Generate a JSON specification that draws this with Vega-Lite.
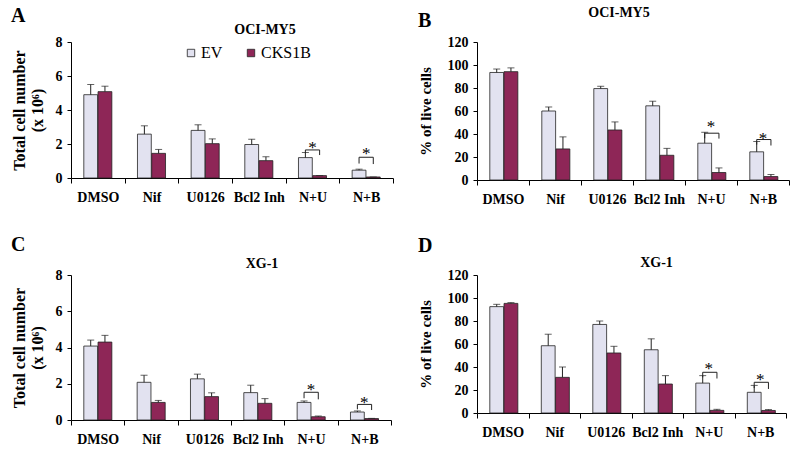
{
  "$schema": "https://vega.github.io/schema/vega-lite/v6.json",
  "padding": {"left": 10, "top": 6, "right": 5, "bottom": 0},
  "spacing": 29,
  "datasets": {
    "bars": [
      {"panel":"A","cat":"DMSO","grp":"EV","value":4.9,"err":5.5},
      {"panel":"A","cat":"DMSO","grp":"CKS1B","value":5.08,"err":5.4},
      {"panel":"A","cat":"Nif","grp":"EV","value":2.58,"err":3.07},
      {"panel":"A","cat":"Nif","grp":"CKS1B","value":1.45,"err":1.68},
      {"panel":"A","cat":"U0126","grp":"EV","value":2.8,"err":3.13},
      {"panel":"A","cat":"U0126","grp":"CKS1B","value":2.02,"err":2.3},
      {"panel":"A","cat":"Bcl2 Inh","grp":"EV","value":1.97,"err":2.28},
      {"panel":"A","cat":"Bcl2 Inh","grp":"CKS1B","value":1.02,"err":1.25},
      {"panel":"A","cat":"N+U","grp":"EV","value":1.2,"err":1.5},
      {"panel":"A","cat":"N+U","grp":"CKS1B","value":0.14,"err":0.14},
      {"panel":"A","cat":"N+B","grp":"EV","value":0.46,"err":0.52},
      {"panel":"A","cat":"N+B","grp":"CKS1B","value":0.06,"err":0.06},
      {"panel":"B","cat":"DMSO","grp":"EV","value":93.5,"err":96.5},
      {"panel":"B","cat":"DMSO","grp":"CKS1B","value":94.2,"err":97.5},
      {"panel":"B","cat":"Nif","grp":"EV","value":60,"err":63.5},
      {"panel":"B","cat":"Nif","grp":"CKS1B","value":27,"err":37.5},
      {"panel":"B","cat":"U0126","grp":"EV","value":79.5,"err":81.5},
      {"panel":"B","cat":"U0126","grp":"CKS1B","value":43.5,"err":50.5},
      {"panel":"B","cat":"Bcl2 Inh","grp":"EV","value":64.5,"err":68.5},
      {"panel":"B","cat":"Bcl2 Inh","grp":"CKS1B","value":21.5,"err":27.5},
      {"panel":"B","cat":"N+U","grp":"EV","value":32,"err":41.5},
      {"panel":"B","cat":"N+U","grp":"CKS1B","value":6.5,"err":10.5},
      {"panel":"B","cat":"N+B","grp":"EV","value":24.5,"err":33.5},
      {"panel":"B","cat":"N+B","grp":"CKS1B","value":3,"err":4.8},
      {"panel":"C","cat":"DMSO","grp":"EV","value":4.08,"err":4.41},
      {"panel":"C","cat":"DMSO","grp":"CKS1B","value":4.3,"err":4.67},
      {"panel":"C","cat":"Nif","grp":"EV","value":2.08,"err":2.47},
      {"panel":"C","cat":"Nif","grp":"CKS1B","value":0.97,"err":1.08},
      {"panel":"C","cat":"U0126","grp":"EV","value":2.27,"err":2.53},
      {"panel":"C","cat":"U0126","grp":"CKS1B","value":1.29,"err":1.5},
      {"panel":"C","cat":"Bcl2 Inh","grp":"EV","value":1.51,"err":1.92},
      {"panel":"C","cat":"Bcl2 Inh","grp":"CKS1B","value":0.92,"err":1.18},
      {"panel":"C","cat":"N+U","grp":"EV","value":0.97,"err":1.05},
      {"panel":"C","cat":"N+U","grp":"CKS1B","value":0.18,"err":0.22},
      {"panel":"C","cat":"N+B","grp":"EV","value":0.44,"err":0.5},
      {"panel":"C","cat":"N+B","grp":"CKS1B","value":0.08,"err":0.09},
      {"panel":"D","cat":"DMSO","grp":"EV","value":92.5,"err":94.5},
      {"panel":"D","cat":"DMSO","grp":"CKS1B","value":95.3,"err":96},
      {"panel":"D","cat":"Nif","grp":"EV","value":58.5,"err":68.5},
      {"panel":"D","cat":"Nif","grp":"CKS1B","value":31,"err":40},
      {"panel":"D","cat":"U0126","grp":"EV","value":77,"err":80},
      {"panel":"D","cat":"U0126","grp":"CKS1B","value":52.2,"err":58},
      {"panel":"D","cat":"Bcl2 Inh","grp":"EV","value":55,"err":64.5},
      {"panel":"D","cat":"Bcl2 Inh","grp":"CKS1B","value":25.2,"err":32.5},
      {"panel":"D","cat":"N+U","grp":"EV","value":26,"err":32.5},
      {"panel":"D","cat":"N+U","grp":"CKS1B","value":2.3,"err":3.2},
      {"panel":"D","cat":"N+B","grp":"EV","value":18,"err":24},
      {"panel":"D","cat":"N+B","grp":"CKS1B","value":2.2,"err":3}
    ],
    "brackets": [
      {"panel":"A","cat":"N+U","grp":"EV","ord":1,"y":1.45},
      {"panel":"A","cat":"N+U","grp":"EV","ord":2,"y":1.65},
      {"panel":"A","cat":"N+U","grp":"CKS1B","ord":3,"y":1.65},
      {"panel":"A","cat":"N+U","grp":"CKS1B","ord":4,"y":1.35},
      {"panel":"A","cat":"N+B","grp":"EV","ord":1,"y":0.85},
      {"panel":"A","cat":"N+B","grp":"EV","ord":2,"y":1.22},
      {"panel":"A","cat":"N+B","grp":"CKS1B","ord":3,"y":1.22},
      {"panel":"A","cat":"N+B","grp":"CKS1B","ord":4,"y":0.82},
      {"panel":"B","cat":"N+U","grp":"EV","ord":1,"y":36.3},
      {"panel":"B","cat":"N+U","grp":"EV","ord":2,"y":40.7},
      {"panel":"B","cat":"N+U","grp":"CKS1B","ord":3,"y":40.7},
      {"panel":"B","cat":"N+U","grp":"CKS1B","ord":4,"y":36},
      {"panel":"B","cat":"N+B","grp":"EV","ord":1,"y":30.8},
      {"panel":"B","cat":"N+B","grp":"EV","ord":2,"y":35.2},
      {"panel":"B","cat":"N+B","grp":"CKS1B","ord":3,"y":35.2},
      {"panel":"B","cat":"N+B","grp":"CKS1B","ord":4,"y":30},
      {"panel":"C","cat":"N+U","grp":"EV","ord":1,"y":1.2},
      {"panel":"C","cat":"N+U","grp":"EV","ord":2,"y":1.53},
      {"panel":"C","cat":"N+U","grp":"CKS1B","ord":3,"y":1.53},
      {"panel":"C","cat":"N+U","grp":"CKS1B","ord":4,"y":1.14},
      {"panel":"C","cat":"N+B","grp":"EV","ord":1,"y":0.59},
      {"panel":"C","cat":"N+B","grp":"EV","ord":2,"y":0.86},
      {"panel":"C","cat":"N+B","grp":"CKS1B","ord":3,"y":0.86},
      {"panel":"C","cat":"N+B","grp":"CKS1B","ord":4,"y":0.55},
      {"panel":"D","cat":"N+U","grp":"EV","ord":1,"y":31},
      {"panel":"D","cat":"N+U","grp":"EV","ord":2,"y":35.4},
      {"panel":"D","cat":"N+U","grp":"CKS1B","ord":3,"y":35.4},
      {"panel":"D","cat":"N+U","grp":"CKS1B","ord":4,"y":30},
      {"panel":"D","cat":"N+B","grp":"EV","ord":1,"y":21.7},
      {"panel":"D","cat":"N+B","grp":"EV","ord":2,"y":26.7},
      {"panel":"D","cat":"N+B","grp":"CKS1B","ord":3,"y":26.7},
      {"panel":"D","cat":"N+B","grp":"CKS1B","ord":4,"y":20.9}
    ],
    "stars": [
      {"panel":"A","cat":"N+U","y":1.78,"s":"*"},
      {"panel":"A","cat":"N+B","y":1.42,"s":"*"},
      {"panel":"B","cat":"N+U","y":46.2,"s":"*"},
      {"panel":"B","cat":"N+B","y":36,"s":"*"},
      {"panel":"C","cat":"N+U","y":1.67,"s":"*"},
      {"panel":"C","cat":"N+B","y":0.93,"s":"*"},
      {"panel":"D","cat":"N+U","y":38.4,"s":"*"},
      {"panel":"D","cat":"N+B","y":28.4,"s":"*"}
    ]
  },
  "vconcat": [
    {
      "hconcat": [
        {
          "title": {"text": "A", "anchor": "start", "fontSize": 20, "offset": -3},
          "vconcat": [
            {
              "width": 322, "height": 136,
              "title": {"text": "OCI-MY5", "fontSize": 14, "dx": 33, "offset": -2},
              "encoding": {"x": {"field": "cat", "type": "nominal", "scale": {"domain": ["DMSO","Nif","U0126","Bcl2 Inh","N+U","N+B"], "paddingInner": 0, "paddingOuter": 0}, "axis": {"title": null}}},
              "layer": [
                {"data": {"name": "bars"}, "transform": [{"filter": "datum.panel === 'A'"}],
                 "mark": {"type": "bar", "stroke": "#222", "strokeWidth": 0.8},
                 "encoding": {
                   "xOffset": {"field": "grp", "type": "nominal", "scale": {"domain": ["EV","CKS1B"], "paddingInner": 0.03, "paddingOuter": 0.9}},
                   "y": {"field": "value", "type": "quantitative", "scale": {"domain": [0, 8]}, "axis": {"values": [0,2,4,6,8], "title": ["Total cell number", "(x 10⁶)"], "titlePadding": 10, "titleLineHeight": 18, "titleFontSize": 16, "labelPadding": 5}},
                   "color": {"field": "grp", "type": "nominal", "scale": {"domain": ["EV","CKS1B"], "range": ["#E2E2F0","#8E2657"]}, "legend": {"orient": "none", "legendX": 112, "legendY": 3, "direction": "horizontal", "title": null, "columnPadding": 20}}
                 }},
                {"data": {"name": "bars"}, "transform": [{"filter": "datum.panel === 'A'"}],
                 "mark": {"type": "rule", "color": "#222", "strokeWidth": 1},
                 "encoding": {
                   "xOffset": {"field": "grp", "type": "nominal", "scale": {"domain": ["EV","CKS1B"], "paddingInner": 0.03, "paddingOuter": 0.9}},
                   "y": {"field": "value", "type": "quantitative", "scale": {"domain": [0, 8]}, "axis": {"values": [0,2,4,6,8], "title": ["Total cell number", "(x 10⁶)"], "titlePadding": 10, "titleLineHeight": 18, "titleFontSize": 16, "labelPadding": 5}},
                   "y2": {"field": "err"}
                 }},
                {"data": {"name": "bars"}, "transform": [{"filter": "datum.panel === 'A'"}],
                 "mark": {"type": "tick", "color": "#222", "thickness": 1, "size": 7},
                 "encoding": {
                   "xOffset": {"field": "grp", "type": "nominal", "scale": {"domain": ["EV","CKS1B"], "paddingInner": 0.03, "paddingOuter": 0.9}},
                   "y": {"field": "err", "type": "quantitative", "scale": {"domain": [0, 8]}, "axis": {"values": [0,2,4,6,8], "title": ["Total cell number", "(x 10⁶)"], "titlePadding": 10, "titleLineHeight": 18, "titleFontSize": 16, "labelPadding": 5}}
                 }},
                {"data": {"name": "brackets"}, "transform": [{"filter": "datum.panel === 'A'"}],
                 "mark": {"type": "line", "color": "#222", "strokeWidth": 1},
                 "encoding": {
                   "xOffset": {"field": "grp", "type": "nominal", "scale": {"domain": ["EV","CKS1B"], "paddingInner": 0.03, "paddingOuter": 0.9}},
                   "y": {"field": "y", "type": "quantitative", "scale": {"domain": [0, 8]}, "axis": {"values": [0,2,4,6,8], "title": ["Total cell number", "(x 10⁶)"], "titlePadding": 10, "titleLineHeight": 18, "titleFontSize": 16, "labelPadding": 5}},
                   "detail": {"field": "cat"},
                   "order": {"field": "ord"}
                 }},
                {"data": {"name": "stars"}, "transform": [{"filter": "datum.panel === 'A'"}],
                 "mark": {"type": "text", "fontSize": 17, "baseline": "middle", "font": "Liberation Serif", "color": "#000", "fill": "#000"},
                 "encoding": {
                   "y": {"field": "y", "type": "quantitative", "scale": {"domain": [0, 8]}, "axis": {"values": [0,2,4,6,8], "title": ["Total cell number", "(x 10⁶)"], "titlePadding": 10, "titleLineHeight": 18, "titleFontSize": 16, "labelPadding": 5}},
                   "text": {"field": "s"}
                 }}
              ]
            }
          ]
        },
        {
          "title": {"text": "B", "anchor": "start", "fontSize": 20, "offset": -25},
          "vconcat": [
            {
              "width": 312, "height": 138,
              "title": {"text": "OCI-MY5", "fontSize": 14, "dx": -14, "offset": 15},
              "encoding": {"x": {"field": "cat", "type": "nominal", "scale": {"domain": ["DMSO","Nif","U0126","Bcl2 Inh","N+U","N+B"], "paddingInner": 0, "paddingOuter": 0}, "axis": {"title": null}}},
              "layer": [
                {"data": {"name": "bars"}, "transform": [{"filter": "datum.panel === 'B'"}],
                 "mark": {"type": "bar", "stroke": "#222", "strokeWidth": 0.8},
                 "encoding": {
                   "xOffset": {"field": "grp", "type": "nominal", "scale": {"domain": ["EV","CKS1B"], "paddingInner": 0.03, "paddingOuter": 0.9}},
                   "y": {"field": "value", "type": "quantitative", "scale": {"domain": [0, 120]}, "axis": {"values": [0,20,40,60,80,100,120], "title": "% of live cells", "titlePadding": 14, "titleFontSize": 15, "labelPadding": 5}},
                   "color": {"field": "grp", "type": "nominal", "scale": {"domain": ["EV","CKS1B"], "range": ["#E2E2F0","#8E2657"]}, "legend": {"orient": "none", "legendX": 104, "legendY": 2, "direction": "horizontal", "title": null, "columnPadding": 4}}
                 }},
                {"data": {"name": "bars"}, "transform": [{"filter": "datum.panel === 'B'"}],
                 "mark": {"type": "rule", "color": "#222", "strokeWidth": 1},
                 "encoding": {
                   "xOffset": {"field": "grp", "type": "nominal", "scale": {"domain": ["EV","CKS1B"], "paddingInner": 0.03, "paddingOuter": 0.9}},
                   "y": {"field": "value", "type": "quantitative", "scale": {"domain": [0, 120]}, "axis": {"values": [0,20,40,60,80,100,120], "title": "% of live cells", "titlePadding": 14, "titleFontSize": 15, "labelPadding": 5}},
                   "y2": {"field": "err"}
                 }},
                {"data": {"name": "bars"}, "transform": [{"filter": "datum.panel === 'B'"}],
                 "mark": {"type": "tick", "color": "#222", "thickness": 1, "size": 7},
                 "encoding": {
                   "xOffset": {"field": "grp", "type": "nominal", "scale": {"domain": ["EV","CKS1B"], "paddingInner": 0.03, "paddingOuter": 0.9}},
                   "y": {"field": "err", "type": "quantitative", "scale": {"domain": [0, 120]}, "axis": {"values": [0,20,40,60,80,100,120], "title": "% of live cells", "titlePadding": 14, "titleFontSize": 15, "labelPadding": 5}}
                 }},
                {"data": {"name": "brackets"}, "transform": [{"filter": "datum.panel === 'B'"}],
                 "mark": {"type": "line", "color": "#222", "strokeWidth": 1},
                 "encoding": {
                   "xOffset": {"field": "grp", "type": "nominal", "scale": {"domain": ["EV","CKS1B"], "paddingInner": 0.03, "paddingOuter": 0.9}},
                   "y": {"field": "y", "type": "quantitative", "scale": {"domain": [0, 120]}, "axis": {"values": [0,20,40,60,80,100,120], "title": "% of live cells", "titlePadding": 14, "titleFontSize": 15, "labelPadding": 5}},
                   "detail": {"field": "cat"},
                   "order": {"field": "ord"}
                 }},
                {"data": {"name": "stars"}, "transform": [{"filter": "datum.panel === 'B'"}],
                 "mark": {"type": "text", "fontSize": 17, "baseline": "middle", "font": "Liberation Serif", "color": "#000", "fill": "#000"},
                 "encoding": {
                   "y": {"field": "y", "type": "quantitative", "scale": {"domain": [0, 120]}, "axis": {"values": [0,20,40,60,80,100,120], "title": "% of live cells", "titlePadding": 14, "titleFontSize": 15, "labelPadding": 5}},
                   "text": {"field": "s"}
                 }}
              ]
            }
          ]
        }
      ],
      "spacing": 24
    },
    {
      "hconcat": [
        {
          "title": {"text": "C", "anchor": "start", "fontSize": 20, "offset": 2},
          "vconcat": [
            {
              "width": 320, "height": 145,
              "title": {"text": "XG-1", "fontSize": 14, "dx": 31, "offset": -3},
              "encoding": {"x": {"field": "cat", "type": "nominal", "scale": {"domain": ["DMSO","Nif","U0126","Bcl2 Inh","N+U","N+B"], "paddingInner": 0, "paddingOuter": 0}, "axis": {"title": null}}},
              "layer": [
                {"data": {"name": "bars"}, "transform": [{"filter": "datum.panel === 'C'"}],
                 "mark": {"type": "bar", "stroke": "#222", "strokeWidth": 0.8},
                 "encoding": {
                   "xOffset": {"field": "grp", "type": "nominal", "scale": {"domain": ["EV","CKS1B"], "paddingInner": 0.03, "paddingOuter": 0.9}},
                   "y": {"field": "value", "type": "quantitative", "scale": {"domain": [0, 8]}, "axis": {"values": [0,2,4,6,8], "title": ["Total cell number", "(x 10⁶)"], "titlePadding": 10, "titleLineHeight": 18, "titleFontSize": 16, "labelPadding": 5}},
                   "color": {"field": "grp", "type": "nominal", "scale": {"domain": ["EV","CKS1B"], "range": ["#E2E2F0","#8E2657"]}, "legend": {"orient": "none", "legendX": 108, "legendY": 11, "direction": "horizontal", "title": null, "columnPadding": 23}}
                 }},
                {"data": {"name": "bars"}, "transform": [{"filter": "datum.panel === 'C'"}],
                 "mark": {"type": "rule", "color": "#222", "strokeWidth": 1},
                 "encoding": {
                   "xOffset": {"field": "grp", "type": "nominal", "scale": {"domain": ["EV","CKS1B"], "paddingInner": 0.03, "paddingOuter": 0.9}},
                   "y": {"field": "value", "type": "quantitative", "scale": {"domain": [0, 8]}, "axis": {"values": [0,2,4,6,8], "title": ["Total cell number", "(x 10⁶)"], "titlePadding": 10, "titleLineHeight": 18, "titleFontSize": 16, "labelPadding": 5}},
                   "y2": {"field": "err"}
                 }},
                {"data": {"name": "bars"}, "transform": [{"filter": "datum.panel === 'C'"}],
                 "mark": {"type": "tick", "color": "#222", "thickness": 1, "size": 7},
                 "encoding": {
                   "xOffset": {"field": "grp", "type": "nominal", "scale": {"domain": ["EV","CKS1B"], "paddingInner": 0.03, "paddingOuter": 0.9}},
                   "y": {"field": "err", "type": "quantitative", "scale": {"domain": [0, 8]}, "axis": {"values": [0,2,4,6,8], "title": ["Total cell number", "(x 10⁶)"], "titlePadding": 10, "titleLineHeight": 18, "titleFontSize": 16, "labelPadding": 5}}
                 }},
                {"data": {"name": "brackets"}, "transform": [{"filter": "datum.panel === 'C'"}],
                 "mark": {"type": "line", "color": "#222", "strokeWidth": 1},
                 "encoding": {
                   "xOffset": {"field": "grp", "type": "nominal", "scale": {"domain": ["EV","CKS1B"], "paddingInner": 0.03, "paddingOuter": 0.9}},
                   "y": {"field": "y", "type": "quantitative", "scale": {"domain": [0, 8]}, "axis": {"values": [0,2,4,6,8], "title": ["Total cell number", "(x 10⁶)"], "titlePadding": 10, "titleLineHeight": 18, "titleFontSize": 16, "labelPadding": 5}},
                   "detail": {"field": "cat"},
                   "order": {"field": "ord"}
                 }},
                {"data": {"name": "stars"}, "transform": [{"filter": "datum.panel === 'C'"}],
                 "mark": {"type": "text", "fontSize": 17, "baseline": "middle", "font": "Liberation Serif", "color": "#000", "fill": "#000"},
                 "encoding": {
                   "y": {"field": "y", "type": "quantitative", "scale": {"domain": [0, 8]}, "axis": {"values": [0,2,4,6,8], "title": ["Total cell number", "(x 10⁶)"], "titlePadding": 10, "titleLineHeight": 18, "titleFontSize": 16, "labelPadding": 5}},
                   "text": {"field": "s"}
                 }}
              ]
            }
          ]
        },
        {
          "title": {"text": "D", "anchor": "start", "fontSize": 20, "offset": 0},
          "vconcat": [
            {
              "width": 309, "height": 138,
              "title": {"text": "XG-1", "fontSize": 14, "dx": 25, "offset": -2},
              "encoding": {"x": {"field": "cat", "type": "nominal", "scale": {"domain": ["DMSO","Nif","U0126","Bcl2 Inh","N+U","N+B"], "paddingInner": 0, "paddingOuter": 0}, "axis": {"title": null}}},
              "layer": [
                {"data": {"name": "bars"}, "transform": [{"filter": "datum.panel === 'D'"}],
                 "mark": {"type": "bar", "stroke": "#222", "strokeWidth": 0.8},
                 "encoding": {
                   "xOffset": {"field": "grp", "type": "nominal", "scale": {"domain": ["EV","CKS1B"], "paddingInner": 0.03, "paddingOuter": 0.9}},
                   "y": {"field": "value", "type": "quantitative", "scale": {"domain": [0, 120]}, "axis": {"values": [0,20,40,60,80,100,120], "title": "% of live cells", "titlePadding": 14, "titleFontSize": 15, "labelPadding": 5}},
                   "color": {"field": "grp", "type": "nominal", "scale": {"domain": ["EV","CKS1B"], "range": ["#E2E2F0","#8E2657"]}, "legend": {"orient": "none", "legendX": 107, "legendY": 11, "direction": "horizontal", "title": null, "columnPadding": 15}}
                 }},
                {"data": {"name": "bars"}, "transform": [{"filter": "datum.panel === 'D'"}],
                 "mark": {"type": "rule", "color": "#222", "strokeWidth": 1},
                 "encoding": {
                   "xOffset": {"field": "grp", "type": "nominal", "scale": {"domain": ["EV","CKS1B"], "paddingInner": 0.03, "paddingOuter": 0.9}},
                   "y": {"field": "value", "type": "quantitative", "scale": {"domain": [0, 120]}, "axis": {"values": [0,20,40,60,80,100,120], "title": "% of live cells", "titlePadding": 14, "titleFontSize": 15, "labelPadding": 5}},
                   "y2": {"field": "err"}
                 }},
                {"data": {"name": "bars"}, "transform": [{"filter": "datum.panel === 'D'"}],
                 "mark": {"type": "tick", "color": "#222", "thickness": 1, "size": 7},
                 "encoding": {
                   "xOffset": {"field": "grp", "type": "nominal", "scale": {"domain": ["EV","CKS1B"], "paddingInner": 0.03, "paddingOuter": 0.9}},
                   "y": {"field": "err", "type": "quantitative", "scale": {"domain": [0, 120]}, "axis": {"values": [0,20,40,60,80,100,120], "title": "% of live cells", "titlePadding": 14, "titleFontSize": 15, "labelPadding": 5}}
                 }},
                {"data": {"name": "brackets"}, "transform": [{"filter": "datum.panel === 'D'"}],
                 "mark": {"type": "line", "color": "#222", "strokeWidth": 1},
                 "encoding": {
                   "xOffset": {"field": "grp", "type": "nominal", "scale": {"domain": ["EV","CKS1B"], "paddingInner": 0.03, "paddingOuter": 0.9}},
                   "y": {"field": "y", "type": "quantitative", "scale": {"domain": [0, 120]}, "axis": {"values": [0,20,40,60,80,100,120], "title": "% of live cells", "titlePadding": 14, "titleFontSize": 15, "labelPadding": 5}},
                   "detail": {"field": "cat"},
                   "order": {"field": "ord"}
                 }},
                {"data": {"name": "stars"}, "transform": [{"filter": "datum.panel === 'D'"}],
                 "mark": {"type": "text", "fontSize": 17, "baseline": "middle", "font": "Liberation Serif", "color": "#000", "fill": "#000"},
                 "encoding": {
                   "y": {"field": "y", "type": "quantitative", "scale": {"domain": [0, 120]}, "axis": {"values": [0,20,40,60,80,100,120], "title": "% of live cells", "titlePadding": 14, "titleFontSize": 15, "labelPadding": 5}},
                   "text": {"field": "s"}
                 }}
              ]
            }
          ]
        }
      ],
      "spacing": 26
    }
  ],
  "config": {
    "view": {"stroke": null},
    "font": "Liberation Serif",
    "title": {"font": "Liberation Serif", "fontWeight": "bold", "color": "#000"},
    "axis": {"domainColor": "#000", "tickColor": "#000", "labelColor": "#000", "titleColor": "#000", "labelFont": "Liberation Serif", "titleFont": "Liberation Serif", "labelFontWeight": "bold", "titleFontWeight": "bold", "grid": false},
    "axisX": {"tickBand": "extent", "tickSize": 5, "labelFontSize": 14, "labelPadding": 7, "labelAngle": 0},
    "axisY": {"tickSize": 4, "labelFontSize": 14, "labelOverlap": false},
    "legend": {"symbolType": "square", "symbolSize": 55, "symbolStrokeColor": "#222", "symbolStrokeWidth": 0.8, "labelFont": "Liberation Serif", "labelFontSize": 16, "labelColor": "#000", "labelOffset": 2}
  }
}
